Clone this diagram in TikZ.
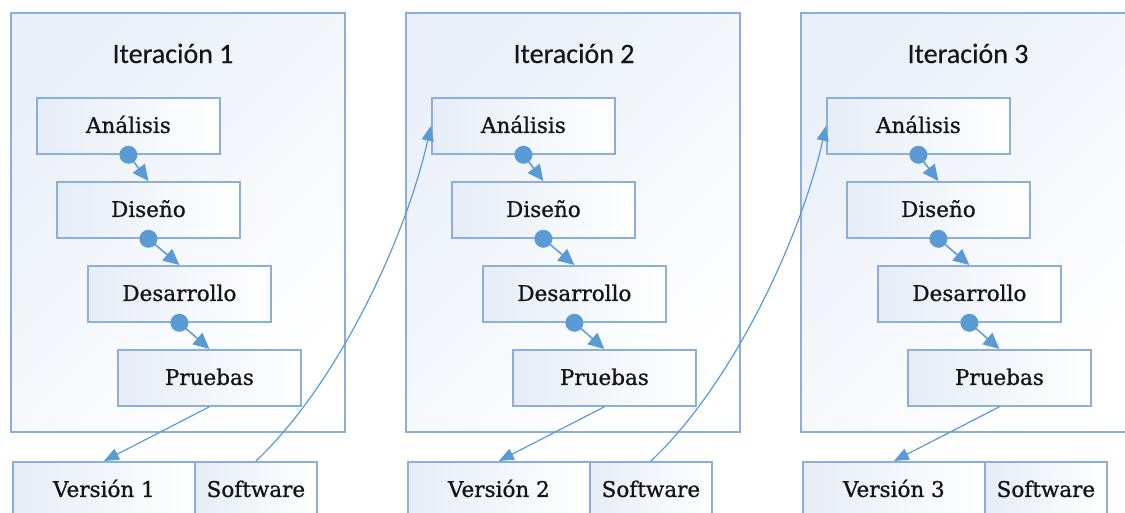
\documentclass[tikz,border=0pt]{standalone}
\usepackage{fontspec}
\usetikzlibrary{arrows.meta}
\newfontfamily\titlefont[FakeBold=0.3]{Carlito}
\newfontfamily\boxfont[FakeBold=0.9]{DejaVu Serif}
\definecolor{frame}{RGB}{138,176,218}
\definecolor{conn}{RGB}{91,155,213}
\definecolor{tintout}{RGB}{234,240,249}
\definecolor{tintin}{RGB}{230,237,247}
\definecolor{ink}{RGB}{20,20,25}
\tikzset{
  itbox/.style={draw=frame, line width=1.8pt, top color=tintout, bottom color=white, shading angle=45},
  stagebox/.style={draw=frame, line width=1.8pt, left color=tintin, right color=white,
    minimum width=183pt, text height=35pt, text depth=21pt, inner sep=0pt,
    anchor=north west, font=\boxfont\fontsize{21.5}{24}\selectfont, text=ink},
  relbox/.style={stagebox, minimum width=#1},
  ittitle/.style={font=\titlefont\fontsize{28}{30}\selectfont, anchor=base, text=ink},
  flow/.style={draw=conn, line width=1.5pt, -{Triangle[length=16pt,width=15pt]}},
  hand/.style={draw=conn, line width=1.2pt, -{Triangle[length=15pt,width=12pt]}},
  dot/.style={fill=conn}
}
\begin{document}
\begin{tikzpicture}[x=1pt,y=-1pt]
\useasboundingbox (0,0) rectangle (1125,512);
\clip (0,0) rectangle (1125,512);
\foreach \i/\dx/\tx in {1/0/173, 2/395/574, 3/790/968}{
  \begin{scope}[xshift=\dx pt]
    % iteration frame and title
    \path[itbox] (11,13) rectangle (345,432);
    \node[ittitle] (t\i) at (\tx-\dx,63) {Iteración \i};
    % the four stages
    \node[stagebox] (an\i) at (36,97)  {Análisis};
    \node[stagebox] (di\i) at (56,181) {Diseño};
    \node[stagebox] (de\i) at (87,265) {Desarrollo};
    \node[stagebox] (pr\i) at (117,349) {Pruebas};
    % release below the frame
    \node[relbox=182pt] (ve\i) at (12,461) {Versión \i};
    \node[relbox=122pt] (sw\i) at (194,461) {Software};
    % stage flow
    \foreach \a/\b in {an/di, di/de, de/pr}{
      \draw[flow] (\a\i.south) -- (\b\i.north);
      \fill[dot] (\a\i.south) circle (9pt);
    }
    \draw[hand] (pr\i.south) -- (ve\i.north);
  \end{scope}
}
% software of one iteration feeds the analysis of the next
\draw[hand] (sw1.north) .. controls +(80,-75) and +(-26,115) .. (an2.west);
\draw[hand] (sw2.north) .. controls +(80,-75) and +(-26,115) .. (an3.west);
\end{tikzpicture}
\end{document}
